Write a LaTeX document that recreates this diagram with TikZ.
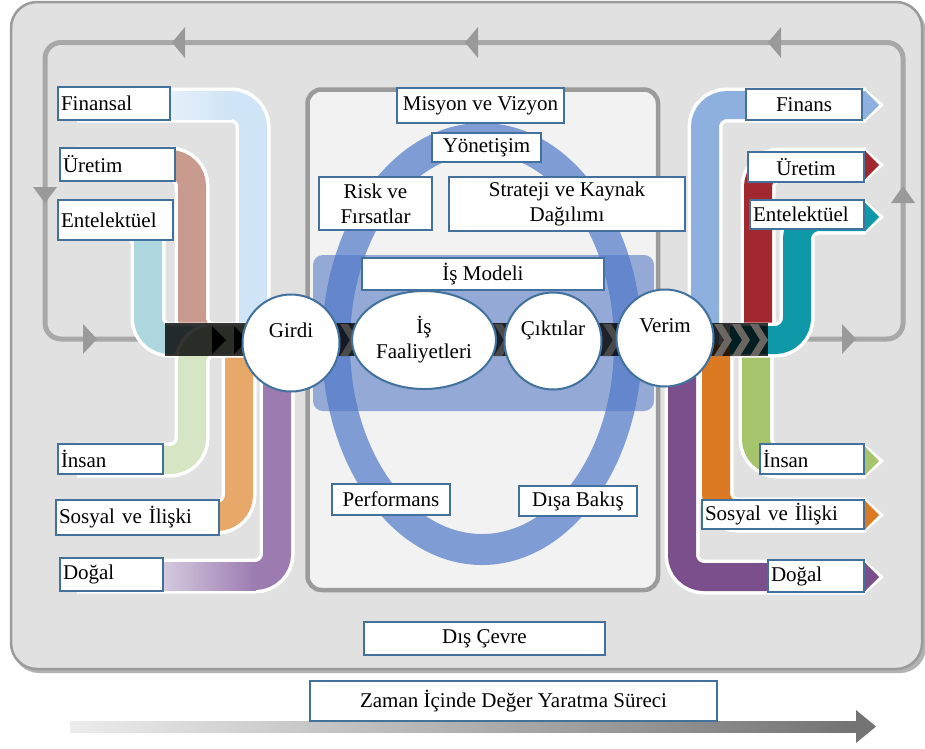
\documentclass[tikz,border=0pt]{standalone}
\usepackage{fontspec}
\setmainfont{Liberation Serif}
\newfontfamily\lbfam{Liberation Serif}
\usetikzlibrary{shapes.geometric}
\definecolor{boxblue}{HTML}{41719C}
\definecolor{framefill}{HTML}{E1E1E1}
\definecolor{framedraw}{HTML}{9B9B9B}
\definecolor{loopgray}{HTML}{A8A8A8}
\definecolor{loopdark}{HTML}{9A9A9A}
\definecolor{innerfill}{HTML}{F2F2F2}
\definecolor{ringblue}{RGB}{80,120,200}
\definecolor{bandblue}{RGB}{98,130,200}
\definecolor{cFinL}{HTML}{CFE4F6}
\definecolor{cFinLpale}{HTML}{E8F2FB}
\definecolor{cUreL}{HTML}{C99A8E}
\definecolor{cEntL}{HTML}{AED6DF}
\definecolor{cInsL}{HTML}{D6E5C4}
\definecolor{cSosL}{HTML}{E8A86A}
\definecolor{cDogL}{HTML}{9C7BB0}
\definecolor{cDogLpale}{HTML}{D6CCE0}
\definecolor{cFinR}{HTML}{8DB0DE}
\definecolor{cUreR}{HTML}{A1282F}
\definecolor{cEntR}{HTML}{0E98A8}
\definecolor{cInsR}{HTML}{A6C46C}
\definecolor{cSosR}{HTML}{DC7A24}
\definecolor{cDogR}{HTML}{7A4F8C}
\definecolor{chevgray}{HTML}{6B6662}
\definecolor{chevdark}{HTML}{4A4A4A}
\newcommand\lblfont{\lbfam\fontsize{21}{25}\selectfont}
\tikzset{
 lbox/.style={draw=boxblue, line width=2.2pt, fill=white, inner sep=0pt, font=\lblfont},
 lboxL/.style 2 args={lbox, text width=#1, inner xsep=3pt, minimum height=#2, align=left},
 lboxC/.style 2 args={lbox, minimum width=#1, minimum height=#2, align=center},
 circ/.style={circle, draw=boxblue, line width=2pt, fill=white, minimum size=97pt, inner sep=0pt, font=\lblfont, align=center},
 flowW/.style={draw=white, line width=35pt, rounded corners=22pt},
 flowC/.style={line width=28pt, rounded corners=22pt},
 looptri/.style={fill=loopdark},
 chevron/.style={fill=chevgray},
}
\begin{document}
\begin{tikzpicture}[x=1pt,y=-1pt]
\useasboundingbox (0,0) rectangle (925,748);
% outer frame
\fill[gray!60, rounded corners=26pt] (13,6) rectangle (926,673);
\draw[fill=framefill, draw=framedraw, line width=2.5pt, rounded corners=26pt] (11,2) rectangle (922,669);
% gray loop
\draw[loopgray, line width=5pt, rounded corners=16pt] (45,42.5) rectangle (903,339);
\fill[looptri] (172,42.5) -- (185,27) -- (185,58) -- cycle;
\fill[looptri] (465,42.5) -- (478,27) -- (478,58) -- cycle;
\fill[looptri] (768,42.5) -- (781,27) -- (781,58) -- cycle;
\fill[looptri] (45,203) -- (33,187) -- (57,187) -- cycle;
\fill[looptri] (97,339) -- (83,324) -- (83,354) -- cycle;
\fill[looptri] (856,339) -- (842,324) -- (842,354) -- cycle;
\fill[looptri] (903,186) -- (891,203) -- (915,203) -- cycle;
% central box
\draw[fill=innerfill, draw=framedraw, line width=4.5pt, rounded corners=14pt] (307.5,89.5) rectangle (658,590);
% business model band and ring
\fill[bandblue, opacity=0.65, rounded corners=10pt] (313,255) rectangle (654,411);
\fill[ringblue, opacity=0.7, even odd rule] (482,344) ellipse [x radius=160pt, y radius=221pt] (482,344) ellipse [x radius=132pt, y radius=190pt];
% left flows
\draw[flowW] (77,105) -- (253,105) -- (253,345);
\draw[flowC, cFinL] (77,105) -- (253,105) -- (253,345);
\shade[left color=cFinLpale, right color=cFinL] (160,91) rectangle (232,119);
\draw[flowW] (77,164) -- (192,164) -- (192,340) -- (270,340);
\draw[flowC, cUreL] (77,164) -- (192,164) -- (192,340) -- (270,340);
\draw[flowW] (77,221) -- (148,221) -- (148,340) -- (270,340);
\draw[flowC, cEntL] (77,221) -- (148,221) -- (148,340) -- (270,340);
\draw[flowW] (77,576) -- (277,576) -- (277,338);
\draw[flowC, cDogL] (77,576) -- (277,576) -- (277,338);
\shade[left color=cDogLpale, right color=cDogL] (160,562) rectangle (256,590);
\draw[flowW] (77,517) -- (239,517) -- (239,340) -- (270,340);
\draw[flowC, cSosL] (77,517) -- (239,517) -- (239,340) -- (270,340);
\draw[flowW] (77,460) -- (192,460) -- (192,340) -- (270,340);
\draw[flowC, cInsL] (77,460) -- (192,460) -- (192,340) -- (270,340);
% right flows
\fill[white] (864,559.5) -- (884,577) -- (864,594.5) -- cycle;
\draw[flowW] (682,335) -- (682,577) -- (866,577);
\draw[flowC, cDogR] (682,335) -- (682,577) -- (866,577);
\fill[cDogR] (865,563) -- (879,577) -- (865,591) -- cycle;
\fill[white] (864,497.5) -- (884,515) -- (864,532.5) -- cycle;
\draw[flowW] (716,335) -- (716,515) -- (866,515);
\draw[flowC, cSosR] (716,335) -- (716,515) -- (866,515);
\fill[cSosR] (865,501) -- (879,515) -- (865,529) -- cycle;
\fill[white] (864,443.5) -- (884,461) -- (864,478.5) -- cycle;
\draw[flowW] (756,335) -- (756,461) -- (866,461);
\draw[flowC, cInsR] (756,335) -- (756,461) -- (866,461);
\fill[cInsR] (865,447) -- (879,461) -- (865,475) -- cycle;
\fill[white] (864,87.5) -- (884,105) -- (864,122.5) -- cycle;
\draw[flowW] (705,345) -- (705,105) -- (866,105);
\draw[flowC, cFinR] (705,345) -- (705,105) -- (866,105);
\fill[cFinR] (865,91) -- (879,105) -- (865,119) -- cycle;
\fill[white] (864,147.5) -- (884,165) -- (864,182.5) -- cycle;
\draw[flowW] (758,345) -- (758,165) -- (866,165);
\draw[flowC, cUreR] (758,345) -- (758,165) -- (866,165);
\fill[cUreR] (865,151) -- (879,165) -- (865,179) -- cycle;
\fill[white] (864,199.5) -- (884,217) -- (864,234.5) -- cycle;
\draw[flowW] (730,340) -- (797,340) -- (797,217) -- (866,217);
\draw[flowC, cEntR] (730,340) -- (797,340) -- (797,217) -- (866,217);
\fill[cEntR] (865,203) -- (879,217) -- (865,231) -- cycle;
% dark central band
\fill[black, opacity=0.8] (165,323) rectangle (768,356);
% chevrons
\fill[black] (212,326) -- (226,340) -- (212,354) -- cycle;
\fill[black] (234,326) -- (248,340) -- (234,354) -- cycle;
\foreach \cx in {340,494,603}
  \fill[chevdark] (\cx,324) -- (\cx+8,324) -- (\cx+18,340) -- (\cx+8,356) -- (\cx,356) -- (\cx+10,340) -- cycle;
\foreach \cx in {714,732,750}
  \fill[chevron] (\cx,324) -- (\cx+8,324) -- (\cx+18,340) -- (\cx+8,356) -- (\cx,356) -- (\cx+10,340) -- cycle;
% circles
\node[circ] (girdi) at (291,343) {Girdi\\\phantom{G}};
\node[ellipse, draw=boxblue, line width=2pt, fill=white, minimum width=144pt, minimum height=98pt, inner sep=0pt, font=\lblfont, align=center] (isf) at (424,340) {İş\\Faaliyetleri};
\node[circ] (cikti) at (553,341) {Çıktılar\\\phantom{G}};
\node[circ] (verim) at (665,338) {Verim\\\phantom{G}};
% left labels
\node[lboxL={106pt}{33pt}] (finL) at (114,103.5) {Finansal};
\node[lboxL={109pt}{33pt}] (ureL) at (117.5,164.5) {Üretim};
\node[lboxL={109pt}{40pt}] (entL) at (115.5,220) {Entelektüel};
\node[lboxL={99pt}{30pt}] (insL) at (110.5,459) {İnsan};
\node[lboxL={157pt}{35pt}] (sosL) at (137.5,517.5) {Sosyal ve İlişki};
\node[lboxL={97pt}{33pt}] (dogL) at (111.5,574.5) {Doğal};
% right labels
\node[lboxC={116pt}{31pt}] (finR) at (804,104.5) {Finans};
\node[lboxC={116pt}{30pt}] (ureR) at (806,167) {Üretim};
\node[lboxL={108pt}{29pt}] (entR) at (807,214.5) {Entelektüel};
\node[lboxL={98pt}{30pt}] (insR) at (812,459) {İnsan};
\node[lboxL={156pt}{29pt}] (sosR) at (783,514.5) {Sosyal ve İlişki};
\node[lboxL={90pt}{32pt}] (dogR) at (816,576) {Doğal};
% center labels
\node[lboxC={167pt}{35pt}] (mis) at (480.5,105.5) {Misyon ve Vizyon};
\node[lboxC={109pt}{29pt}] (yon) at (486.5,147.5) {Yönetişim};
\node[lboxC={113pt}{53pt}] (risk) at (375.5,203.5) {Risk ve\\Fırsatlar};
\node[lboxC={236pt}{54pt}] (str) at (567,204) {Strateji ve Kaynak\\Dağılımı};
\node[lboxC={242pt}{32pt}] (model) at (483,274) {İş Modeli};
\node[lboxC={118pt}{31pt}] (perf) at (391,499.5) {Performans};
\node[lboxC={118pt}{30pt}] (disa) at (578,501) {Dışa Bakış};
\node[lboxC={241pt}{33pt}] (cevre) at (484.5,638.5) {Dış Çevre};
% time arrow
\shade[left color=gray!15, right color=gray!90!black] (70,721) rectangle (858,732);
\fill[gray!90!black] (856,710) -- (876,726.5) -- (856,743) -- cycle;
\node[lboxC={407pt}{40pt}] (zaman) at (513.5,701) {Zaman İçinde Değer Yaratma Süreci};
\end{tikzpicture}
\end{document}
